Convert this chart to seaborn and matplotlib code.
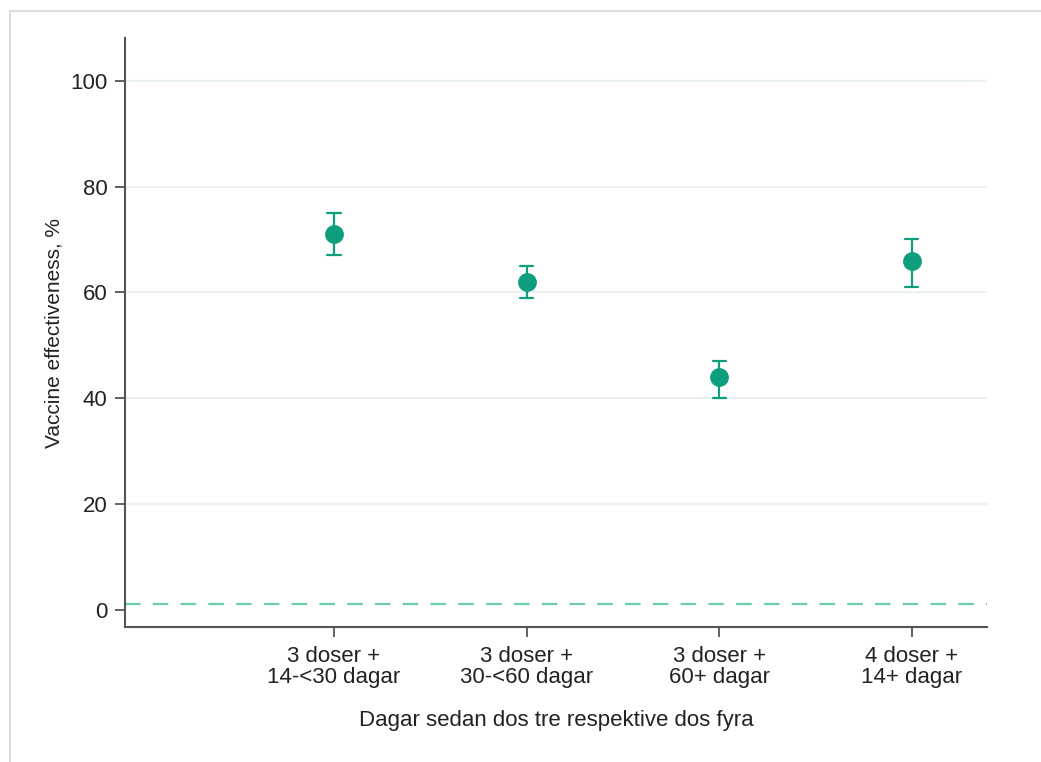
import matplotlib
matplotlib.use("Agg")
import matplotlib.pyplot as plt
from matplotlib.lines import Line2D
import seaborn as sns
import pandas as pd

categories = ["3 doser +\n14-<30 dagar", "3 doser +\n30-<60 dagar",
              "3 doser +\n60+ dagar", "4 doser +\n14+ dagar"]
estimate = [71, 62, 44, 66]
ci_low = [67, 59, 40, 61]
ci_high = [75, 65, 47, 70]
y_ticks = [0, 20, 40, 60, 80, 100]
ref_value = 1

sns.set_theme(style="white")
plt.rcParams["font.family"] = ["Liberation Sans", "DejaVu Sans"]

# long table: estimate and interval bounds per category; the median is the
# estimate and the full percentile interval spans the confidence bounds
rows = []
for c, e, lo, hi in zip(categories, estimate, ci_low, ci_high):
    for v in (lo, e, hi):
        rows.append({"group": c, "ve": v})
df = pd.DataFrame(rows)

teal = "#0E9E7E"
fs = 16
fig = plt.figure(figsize=(10.41, 7.62), dpi=100)
fig.patch.set_facecolor("white")
ax = fig.add_axes([125 / 1041, 1 - 627 / 762, (987 - 125) / 1041, (627 - 38) / 762])

for t in y_ticks[1:]:
    ax.axhline(t, color="#EAF1F2", linewidth=1.5, zorder=0)
ax.axhline(ref_value, color="#6DCBB2", linewidth=1.6, dashes=(7, 5.5), zorder=1)

sns.pointplot(data=df, x="group", y="ve", order=categories,
              estimator="median", errorbar=("pi", 100),
              linestyle="none", marker="o", markersize=11.5,
              color=teal, capsize=0.068,
              err_kws={"linewidth": 1.6}, ax=ax, zorder=3)

ax.set_xlim(-1.085, 3.39)
ax.set_ylim(-3.3, 108.1)
ax.set_yticks(y_ticks)
ax.set_yticklabels([str(t) for t in y_ticks])

for side in ("top", "right"):
    ax.spines[side].set_visible(False)
for side in ("left", "bottom"):
    ax.spines[side].set_color("#555555")
    ax.spines[side].set_linewidth(1.5)

ax.tick_params(axis="both", which="major", direction="out", length=7.5,
               width=1.3, color="#555555", labelsize=fs, labelcolor="#222222")
ax.tick_params(axis="x", pad=6)
ax.tick_params(axis="y", pad=5)
ax.tick_params(left=True, bottom=True)
for lbl in ax.get_xticklabels():
    lbl.set_linespacing(1.0)

ax.set_xlabel("Dagar sedan dos tre respektive dos fyra", fontsize=fs,
              color="#222222", labelpad=16)
ax.set_ylabel("Vaccine effectiveness, %", fontsize=15, color="#222222",
              labelpad=5)

# thin frame around the figure (left and top edges)
fig.add_artist(Line2D([9.5 / 1041, 9.5 / 1041], [0, 1 - 10.5 / 762],
                      transform=fig.transFigure, color="#DCDCDC", linewidth=1.5))
fig.add_artist(Line2D([9.5 / 1041, 1], [1 - 10.5 / 762, 1 - 10.5 / 762],
                      transform=fig.transFigure, color="#DCDCDC", linewidth=1.5))

fig.savefig("out.png", dpi=100, facecolor="white")
